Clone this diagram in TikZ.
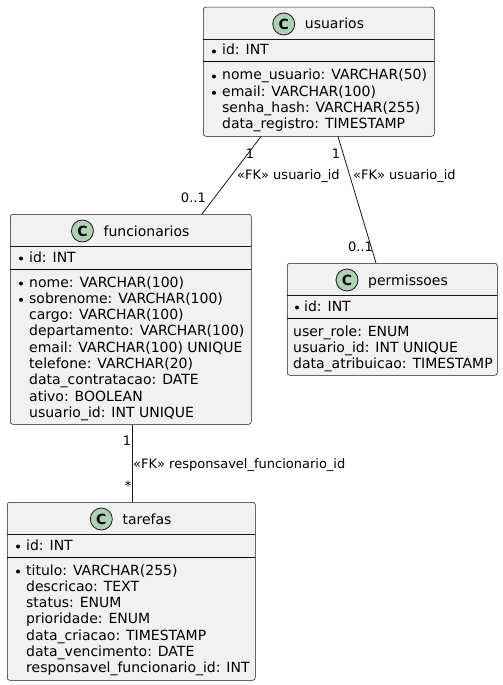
\documentclass[tikz,border=0pt]{standalone}
\usepackage{fontspec}
\setmainfont{DejaVu Sans}
\usetikzlibrary{calc}
\definecolor{boxfill}{HTML}{F1F1F1}
\definecolor{boxline}{HTML}{181818}
\definecolor{spotfill}{HTML}{ADD1B2}
\begin{document}
\begin{tikzpicture}[x=1pt,y=-1pt,
 classbox/.style={draw=boxline, fill=boxfill, line width=0.5pt, rounded corners=2.5pt, inner sep=0pt, anchor=north west},
 hsep/.style={draw=boxline, line width=0.5pt},
 isep/.style={draw=black, line width=1pt},
 member/.style={anchor=base west, inner sep=0pt, font=\fontsize{14}{16}\selectfont},
 ctitle/.style={anchor=base, inner sep=0pt, font=\fontsize{14}{16}\selectfont},
 spotc/.style={circle, draw=boxline, fill=spotfill, line width=0.8pt, minimum size=22pt, inner sep=0pt, font=\fontsize{14}{14}\selectfont\bfseries},
 bul/.style={circle, fill=black, minimum size=4pt, inner sep=0pt},
 link/.style={draw=boxline, line width=0.8pt},
 lbl/.style={anchor=base, inner sep=0pt, font=\fontsize{13}{15}\selectfont},
]
\useasboundingbox[fill=white] (0,0) rectangle (503,685);

% ---------------- usuarios
\node[classbox, minimum width=231pt, minimum height=129pt] (usuarios) at (203,7) {};
\node[ctitle] (usuariosT) at (334.5,29) {usuarios};
\node[spotc] (usuariosC) at ($(usuariosT.west |- 0,24)+(-21,0)$) {C};
\draw[hsep] (203,39) -- (434,39);
\node[bul] (ub0) at (214,51.5) {};
\node[member] (u0) at (222,55) {id: INT};
\draw[isep] (203,62) -- (434,62);
\node[bul] (ub1) at (214,76.5) {};
\node[member] (u1) at (222,80) {nome\_usuario: VARCHAR(50)};
\node[bul] (ub2) at (214,92.8) {};
\node[member] (u2) at (222,96.3) {email: VARCHAR(100)};
\node[member] (u3) at (222,112.6) {senha\_hash: VARCHAR(255)};
\node[member] (u4) at (222,128.9) {data\_registro: TIMESTAMP};

% ---------------- funcionarios
\node[classbox, minimum width=241pt, minimum height=210pt] (funcionarios) at (10,214) {};
\node[ctitle] (funcionariosT) at (146.5,236) {funcionarios};
\node[spotc] (funcionariosC) at ($(funcionariosT.west |- 0,231)+(-21,0)$) {C};
\draw[hsep] (10,246) -- (251,246);
\node[bul] (fb0) at (21,258.5) {};
\node[member] (f0) at (29,262) {id: INT};
\draw[isep] (10,269) -- (251,269);
\node[bul] (fb1) at (21,283.5) {};
\node[member] (f1) at (29,287) {nome: VARCHAR(100)};
\node[bul] (fb2) at (21,299.8) {};
\node[member] (f2) at (29,303.3) {sobrenome: VARCHAR(100)};
\node[member] (f3) at (29,319.6) {cargo: VARCHAR(100)};
\node[member] (f4) at (29,335.9) {departamento: VARCHAR(100)};
\node[member] (f5) at (29,352.2) {email: VARCHAR(100) UNIQUE};
\node[member] (f6) at (29,368.5) {telefone: VARCHAR(20)};
\node[member] (f7) at (29,384.8) {data\_contratacao: DATE};
\node[member] (f8) at (29,401.1) {ativo: BOOLEAN};
\node[member] (f9) at (29,417.4) {usuario\_id: INT UNIQUE};

% ---------------- permissoes
\node[classbox, minimum width=210pt, minimum height=112pt] (permissoes) at (287,263) {};
\node[ctitle] (permissoesT) at (408,285) {permissoes};
\node[spotc] (permissoesC) at ($(permissoesT.west |- 0,280)+(-21,0)$) {C};
\draw[hsep] (287,295) -- (497,295);
\node[bul] (pb0) at (297,307.5) {};
\node[member] (p0) at (304,311) {id: INT};
\draw[isep] (287,318) -- (497,318);
\node[member] (p1) at (293,336) {user\_role: ENUM};
\node[member] (p2) at (293,352.3) {usuario\_id: INT UNIQUE};
\node[member] (p3) at (293,368.6) {data\_atribuicao: TIMESTAMP};

% ---------------- tarefas
\node[classbox, minimum width=248pt, minimum height=178pt] (tarefas) at (7,502) {};
\node[ctitle] (tarefasT) at (147,524) {tarefas};
\node[spotc] (tarefasC) at ($(tarefasT.west |- 0,519)+(-21,0)$) {C};
\draw[hsep] (7,534) -- (255,534);
\node[bul] (tb0) at (18,546.5) {};
\node[member] (t0) at (26,550) {id: INT};
\draw[isep] (7,557) -- (255,557);
\node[bul] (tb1) at (18,571.5) {};
\node[member] (t1) at (26,575) {titulo: VARCHAR(255)};
\node[member] (t2) at (26,591.3) {descricao: TEXT};
\node[member] (t3) at (26,607.6) {status: ENUM};
\node[member] (t4) at (26,623.9) {prioridade: ENUM};
\node[member] (t5) at (26,640.2) {data\_criacao: TIMESTAMP};
\node[member] (t6) at (26,656.5) {data\_vencimento: DATE};
\node[member] (t7) at (26,672.8) {responsavel\_funcionario\_id: INT};

% ---------------- connectors
\coordinate (uf1) at (usuarios.south west -| 261,0);
\coordinate (uf2) at (funcionarios.north west -| 202,0);
\coordinate (up1) at (usuarios.south west -| 338,0);
\coordinate (up2) at (permissoes.north west -| 376,0);
\coordinate (ft1) at (funcionarios.south west -| 132,0);
\coordinate (ft2) at (tarefas.north west -| 132,0);
\draw[link] (uf1) -- (uf2);
\draw[link] (up1) -- (up2);
\draw[link] (ft1) -- (ft2);

\node[lbl] (l1a) at (250,158) {1};
\node[lbl, anchor=base west] (l1b) at (237,179.7) {«FK» usuario\_id};
\node[lbl, anchor=base east] (l1c) at (206,202.7) {0..1};
\node[lbl] (l2a) at (336,158) {1};
\node[lbl, anchor=base west] (l2b) at (353,179.7) {«FK» usuario\_id};
\node[lbl] (l2c) at (360.5,251.4) {0..1};
\node[lbl] (l3a) at (127,445.4) {1};
\node[lbl, anchor=base west] (l3b) at (133,468) {«FK» responsavel\_funcionario\_id};
\node[lbl] (l3c) at (128,490) {*};
\end{tikzpicture}
\end{document}
